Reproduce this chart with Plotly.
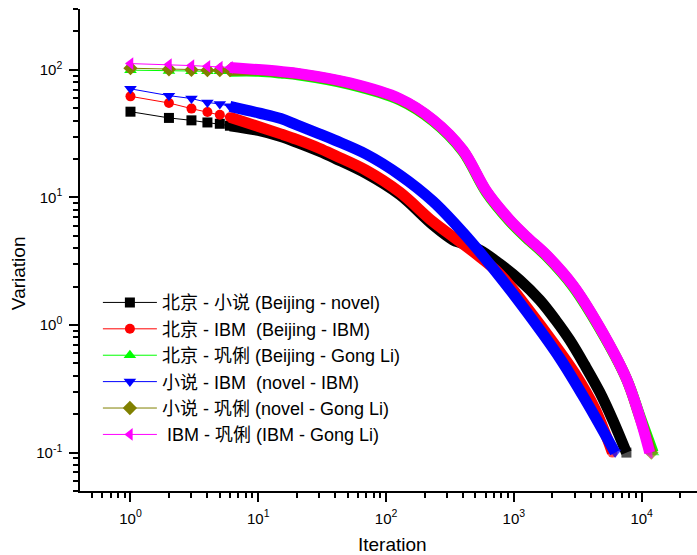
import plotly.graph_objects as go

# Iteration counts and measured variation for each pairing
iter_beijing_novel = [1, 2, 3, 4, 5, 6, 10, 15, 20, 30, 40, 70, 128, 232, 333, 389, 541, 776,
                      1112, 1593, 2126, 2737, 3584, 4695, 5939, 7600]
var_beijing_novel = [47, 42, 40.2, 38.7, 37.8, 36.5, 33.5, 30, 27, 23, 20.2, 15.4, 10.5, 6.1, 4.65, 4.38,
                     3.87, 3.01, 2.25, 1.57, 1.09, 0.762, 0.485, 0.298, 0.18, 0.1]

iter_beijing_ibm = [1, 2, 3, 4, 5, 6, 10, 15, 20, 30, 40, 70, 128, 232, 333, 494, 776, 1331, 2051,
                    2998, 4299, 5900]
var_beijing_ibm = [62, 55, 49.7, 46.8, 44.5, 42.5, 36, 31.5, 28.5, 24.3, 21.3, 16.3, 11.0, 6.47, 4.93,
                   3.67, 2.51, 1.285, 0.721, 0.419, 0.222, 0.1]

iter_beijing_gongli = [1, 2, 3, 4, 5, 6, 10, 15, 21, 52, 128, 233, 398, 611, 929, 1256, 1800, 2904,
                       4696, 7600, 9660, 12300]
var_beijing_gongli = [99.5, 98, 97.5, 97.5, 97.5, 97.5, 97.5, 94.5, 91.2, 77, 58, 39.7, 23.0, 10.9, 6.5,
                      4.81, 3.46, 2.0, 0.94, 0.38, 0.195, 0.1]

iter_novel_ibm = [1, 2, 3, 4, 5, 6, 10, 15, 20, 30, 40, 70, 128, 232, 398, 684, 1262, 2286, 3715, 6200]
var_novel_ibm = [71, 62.8, 59.6, 55.6, 54, 51.8, 46, 41.5, 37, 31.5, 28, 21.8, 15.0, 9.35, 5.33, 2.8,
                 1.265, 0.55, 0.248, 0.1]

iter_novel_gongli = [1, 2, 3, 4, 5, 6, 10, 15, 21, 52, 128, 233, 398, 611, 929, 1256, 1800, 2904,
                     4696, 7600, 9660, 11900]
var_novel_gongli = [103, 101, 100, 99.5, 99.5, 99.5, 99.5, 96, 92.5, 78.2, 58.9, 40.3, 23.4, 11.1, 6.6,
                    4.88, 3.51, 2.03, 0.95, 0.378, 0.19, 0.1]

iter_ibm_gongli = [1, 2, 3, 4, 5, 6, 10, 15, 21, 52, 128, 233, 398, 611, 929, 1256, 1800, 2904,
                   4696, 7600, 9660, 11560]
var_ibm_gongli = [112, 110, 108, 106.5, 105, 104.5, 100.5, 97, 93.5, 79, 59.5, 40.7, 23.6, 11.2, 6.67,
                  4.93, 3.55, 2.05, 0.96, 0.38, 0.19, 0.1]

series_names = [
    "北京 - 小说 (Beijing - novel)",
    "北京 - IBM  (Beijing - IBM)",
    "北京 - 巩俐 (Beijing - Gong Li)",
    "小说 - IBM  (novel - IBM)",
    "小说 - 巩俐 (novel - Gong Li)",
    " IBM - 巩俐 (IBM - Gong Li)",
]
series_iters = [iter_beijing_novel, iter_beijing_ibm, iter_beijing_gongli,
                iter_novel_ibm, iter_novel_gongli, iter_ibm_gongli]
series_vars = [var_beijing_novel, var_beijing_ibm, var_beijing_gongli,
               var_novel_ibm, var_novel_gongli, var_ibm_gongli]
series_colors = ["#000000", "#FF0000", "#00FF00", "#0000FF", "#808000", "#FF00FF"]
series_symbols = ["square", "circle", "triangle-up", "triangle-down", "diamond", "triangle-left"]
series_sizes = [10, 10, 11, 11, 11, 11]

x_ticks = [1, 10, 100, 1000, 10000]
x_ticktext = ["10<sup>0</sup>", "10<sup>1</sup>", "10<sup>2</sup>", "10<sup>3</sup>", "10<sup>4</sup>"]
y_ticks = [0.1, 1, 10, 100]
y_ticktext = ["10<sup>-1</sup>", "10<sup>0</sup>", "10<sup>1</sup>", "10<sup>2</sup>"]

X_RANGE = [-0.395, 4.433]
Y_RANGE = [-1.301, 2.477]
BAND_START = 6  # from here on consecutive markers overlap into a solid band

AXIS_FONT = "Liberation Sans Narrow, Arial Narrow, Liberation Sans, Arial, sans-serif"
LEGEND_FONT = "Liberation Sans, Arial, Noto Sans CJK SC, sans-serif"


def minor_positions(lo_exp, hi_exp):
    return [m * 10.0 ** e for e in range(lo_exp, hi_exp + 1) for m in range(2, 10)]


fig = go.Figure()
for name, xs, ys, color, symbol, size in zip(series_names, series_iters, series_vars,
                                             series_colors, series_symbols, series_sizes):
    # dense stretch: a thick band as wide as the markers, capped by the final marker
    band_x = [x for x in xs if x >= BAND_START]
    band_y = [y for x, y in zip(xs, ys) if x >= BAND_START]
    cap_sizes = [0] * (len(band_x) - 1) + [size]
    fig.add_trace(go.Scatter(
        x=band_x, y=band_y, mode="lines+markers", showlegend=False, hoverinfo="skip",
        line=dict(color=color, width=11, shape="spline", smoothing=1.0),
        marker=dict(symbol=symbol, size=cap_sizes, color=color, line=dict(width=0)),
    ))
    # sparse stretch: individual markers joined by a thin line
    head_x = [x for x in xs if x <= BAND_START]
    head_y = [y for x, y in zip(xs, ys) if x <= BAND_START]
    fig.add_trace(go.Scatter(
        x=head_x, y=head_y, mode="lines+markers", name=name,
        line=dict(color=color, width=1),
        marker=dict(symbol=symbol, size=size, color=color, line=dict(width=0)),
    ))

axis_common = dict(
    type="log", showgrid=False, zeroline=False, linecolor="black", linewidth=1.5,
    tickcolor="black", tickwidth=1.5,
)

fig.update_layout(
    width=697, height=555,
    margin=dict(l=80, r=0, t=9, b=64),
    paper_bgcolor="white", plot_bgcolor="white",
    legend=dict(
        x=0.029, y=0.429, xanchor="left", yanchor="top",
        bgcolor="rgba(0,0,0,0)", borderwidth=0, itemwidth=54,
        font=dict(family=LEGEND_FONT, size=18, color="black"),
    ),
    xaxis=dict(
        **axis_common, range=X_RANGE, showline=True, ticks="outside", ticklen=9,
        tickmode="array", tickvals=x_ticks, ticktext=x_ticktext, ticklabelstandoff=4,
        tickfont=dict(family=AXIS_FONT, size=15, color="black"),
        minor=dict(ticks="outside", ticklen=5, tickwidth=1.5, tickcolor="black",
                   tickmode="array", tickvals=minor_positions(-1, 4), showgrid=False),
    ),
    yaxis=dict(
        **axis_common, range=Y_RANGE, showline=True, ticks="outside", ticklen=9,
        tickmode="array", tickvals=y_ticks, ticktext=y_ticktext, ticklabelstandoff=4,
        tickfont=dict(family=AXIS_FONT, size=15, color="black"),
        minor=dict(ticks="outside", ticklen=5, tickwidth=1.5, tickcolor="black",
                   tickmode="array", tickvals=minor_positions(-2, 2), showgrid=False),
    ),
    xaxis2=dict(
        **axis_common, range=X_RANGE, overlaying="x", side="top", showline=True,
        ticks="inside", ticklen=9, tickmode="array", tickvals=x_ticks, showticklabels=False,
        minor=dict(ticks="inside", ticklen=5, tickwidth=1.5, tickcolor="black",
                   tickmode="array", tickvals=minor_positions(-1, 4), showgrid=False),
    ),
    yaxis2=dict(
        **axis_common, range=Y_RANGE, overlaying="y", side="right", showline=False,
        ticks="inside", ticklen=7, tickmode="array", tickvals=y_ticks, showticklabels=False,
    ),
    annotations=[
        dict(text="Variation", xref="paper", yref="paper", x=-0.1005, y=0.452,
             xanchor="center", yanchor="middle", textangle=-90, showarrow=False,
             font=dict(family=AXIS_FONT, size=19, color="black")),
        dict(text="Iteration", xref="paper", yref="paper", x=0.507, y=-0.112,
             xanchor="center", yanchor="middle", showarrow=False,
             font=dict(family=AXIS_FONT, size=19, color="black")),
    ],
)

fig.write_html("out.html")
